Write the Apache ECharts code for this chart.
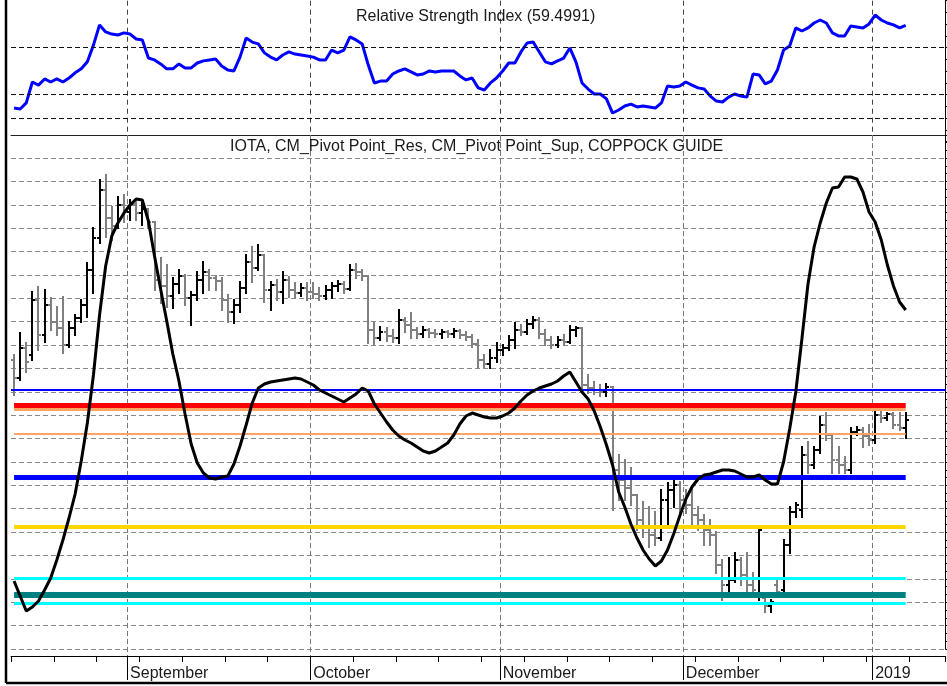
<!DOCTYPE html>
<html>
<head>
<meta charset="utf-8">
<script src="https://cdn.jsdelivr.net/npm/echarts@6/dist/echarts.min.js"></script>
<style>
html, body { margin: 0; padding: 0; background: #fff; }
#main { width: 947px; height: 686px; }
</style>
</head>
<body>
<div id="main"></div>
<script>
// IOTA daily bars 2018-08-13 .. 2019-01-06, axis runs a few empty days further
var firstDay = Date.UTC(2018, 7, 13);
var axisDays = 153;

var openP = [
  .4994,.4814,.5114,.5044,.5594,.5244,.5544,.5374,.5314,.5144,
  .5314,.5414,.5544,.5894,.6214,.6694,.6414,.6334,.6544,.6474,
  .6554,.6464,.6504,.6374,.5794,.5734,.5634,.5754,.5834,.5614,
  .5644,.5794,.5874,.5814,.5784,.5594,.5474,.5544,.5714,.5974,
  .5914,.6044,.5694,.5744,.5674,.5794,.5694,.5664,.5714,.5674,
  .5654,.5634,.5694,.5734,.5754,.5704,.5894,.5874,.5834,.5294,
  .5214,.5274,.5234,.5214,.5394,.5344,.5294,.5254,.5294,.5264,
  .5254,.5274,.5254,.5284,.5244,.5224,.5154,.4994,.4954,.5014,
  .5094,.5114,.5194,.5294,.5274,.5354,.5394,.5254,.5194,.5144,
  .5194,.5174,.5294,.5314,.4744,.4714,.4694,.4674,.4724,.3894,
  .3794,.3714,.3644,.3394,.3314,.3244,.3214,.3594,.3694,.3744,
  .3594,.3544,.3444,.3394,.3294,.3244,.2944,.2744,.2794,.2994,
  .2844,.2744,.2644,.2614,.2534,.2744,.2694,.3144,.3474,.3494,
  .4044,.3944,.4094,.4344,.4244,.3994,.3944,.3894,.4274,.4294,
  .4234,.4194,.4444,.4414,.4454,.4344,.4314
];
var highP = [
  .5044,.5264,.5164,.5674,.5724,.5694,.5614,.5524,.5624,.5374,
  .5444,.5594,.5964,.6314,.6794,.6844,.6524,.6624,.6644,.6594,
  .6574,.6564,.6504,.6374,.6014,.5944,.5814,.5894,.5844,.5674,
  .5874,.5974,.5894,.5834,.5814,.5644,.5594,.5774,.6044,.6124,
  .6144,.6044,.5774,.5794,.5874,.5824,.5764,.5754,.5764,.5764,
  .5714,.5734,.5764,.5784,.5774,.5944,.5954,.5894,.5834,.5364,
  .5324,.5314,.5294,.5494,.5414,.5464,.5314,.5324,.5304,.5294,
  .5294,.5284,.5304,.5294,.5274,.5244,.5194,.5044,.5094,.5164,
  .5144,.5234,.5364,.5344,.5394,.5424,.5414,.5294,.5224,.5224,
  .5244,.5334,.5324,.5314,.4844,.4774,.4744,.4754,.4724,.4044,
  .3994,.3914,.3644,.3574,.3524,.3474,.3694,.3764,.3794,.3774,
  .3694,.3694,.3524,.3444,.3394,.3274,.2994,.3014,.3064,.3014,
  .3064,.2864,.3324,.2664,.2594,.2794,.3194,.3524,.3564,.4124,
  .4174,.4124,.4424,.4464,.4244,.4124,.4024,.4314,.4324,.4314,
  .4344,.4474,.4474,.4464,.4464,.4464,.4464
];
var lowP = [
  .4644,.4794,.4874,.4994,.5094,.5174,.5294,.5244,.5064,.5124,
  .5244,.5374,.5424,.5664,.6164,.6224,.6194,.6314,.6374,.6394,
  .6394,.6344,.6314,.5694,.5564,.5524,.5514,.5664,.5544,.5344,
  .5594,.5664,.5694,.5694,.5494,.5374,.5364,.5474,.5664,.5774,
  .5894,.5574,.5494,.5594,.5564,.5624,.5614,.5634,.5594,.5614,
  .5594,.5604,.5614,.5684,.5664,.5694,.5814,.5794,.5164,.5144,
  .5194,.5184,.5174,.5164,.5274,.5214,.5214,.5224,.5224,.5224,
  .5214,.5224,.5224,.5214,.5194,.5124,.4924,.4924,.4914,.4974,
  .5044,.5094,.5114,.5244,.5254,.5314,.5214,.5144,.5114,.5124,
  .5144,.5164,.5234,.4674,.4664,.4654,.4634,.4634,.3494,.3594,
  .3594,.3544,.3294,.3224,.3124,.3144,.3194,.3324,.3524,.3464,
  .3464,.3324,.3294,.3144,.3144,.2864,.2594,.2644,.2774,.2744,
  .2674,.2644,.2594,.2474,.2474,.2644,.2674,.3064,.3424,.3424,
  .3864,.3914,.4064,.4194,.3864,.3864,.3864,.3864,.4244,.4124,
  .4144,.4164,.4374,.4394,.4314,.4294,.4214
];
var closeP = [
  .4814,.5114,.4974,.5594,.5244,.5544,.5374,.5314,.5144,.5314,
  .5414,.5544,.5894,.6214,.6694,.6414,.6334,.6544,.6474,.6554,
  .6464,.6504,.6374,.5794,.5734,.5634,.5754,.5834,.5614,.5644,
  .5794,.5874,.5814,.5784,.5594,.5474,.5544,.5714,.5974,.5914,
  .6044,.5694,.5744,.5674,.5794,.5694,.5664,.5714,.5674,.5654,
  .5634,.5694,.5734,.5754,.5704,.5894,.5874,.5834,.5294,.5214,
  .5274,.5234,.5214,.5394,.5344,.5294,.5254,.5294,.5264,.5254,
  .5274,.5254,.5284,.5244,.5224,.5154,.4994,.4954,.5014,.5094,
  .5114,.5194,.5294,.5274,.5354,.5394,.5254,.5194,.5144,.5194,
  .5174,.5294,.5314,.4744,.4714,.4694,.4674,.4724,.3894,.3794,
  .3714,.3644,.3394,.3314,.3244,.3214,.3594,.3694,.3744,.3594,
  .3544,.3444,.3394,.3294,.3244,.2944,.2744,.2794,.2994,.2844,
  .2744,.2694,.3294,.2534,.2574,.2674,.3144,.3474,.3544,.4044,
  .3944,.4094,.4344,.4244,.3994,.3944,.3894,.4274,.4294,.4234,
  .4194,.4444,.4414,.4454,.4344,.4314,.4394
];
var rsi = [
  24.3,23.9,26.5,35.4,34.1,36.7,35.4,36.7,35.4,37.1,
  39.3,41.0,44.0,51.1,59.7,56.7,55.8,55.4,56.3,55.8,
  53.7,53.3,45.6,44.8,43.1,41.0,41.0,43.1,41.4,41.4,
  43.5,44.4,44.8,45.2,42.2,40.5,40.1,46.0,54.1,52.4,
  51.6,47.8,46.0,44.8,46.9,48.2,47.3,46.9,46.5,46.0,
  44.8,44.8,49.0,47.8,49.0,54.6,53.3,51.6,42.6,35.0,
  35.8,35.8,38.8,40.1,41.0,39.7,38.4,38.8,40.1,39.7,
  40.1,40.1,40.1,38.0,36.3,37.1,32.9,32.0,35.0,37.1,
  40.1,43.5,43.5,48.2,52.0,52.4,48.2,44.0,43.1,44.4,
  45.6,49.9,44.0,35.0,32.4,30.3,30.3,28.2,22.2,23.5,
  25.2,26.0,24.8,25.2,24.8,24.3,26.5,33.7,33.3,33.7,
  35.4,34.1,32.9,32.4,29.4,27.3,26.9,29.0,30.3,29.4,
  29.0,38.8,38.4,34.6,35.8,40.5,49.0,50.7,58.4,57.1,
  58.4,60.5,61.8,60.5,56.3,55.0,55.0,59.2,58.8,58.4,
  60.1,63.9,61.8,60.5,59.7,58.4,59.4991
];
var coppock = [
  -36.4,-39.4,-42.4,-41.6,-40.4,-38.2,-35.8,-32.2,-28.2,-23.8,
  -19.0,-12.4,-4.8,4.8,16.8,26.6,32.6,35.2,37.2,38.8,
  40.0,39.8,35.6,28.6,22.0,15.6,9.0,3.6,-3.0,-9.0,
  -12.8,-14.8,-15.8,-16.0,-15.6,-15.4,-13.0,-9.4,-5.2,-0.8,
  2.2,3.0,3.4,3.6,3.8,4.0,4.2,4.0,3.4,2.8,
  1.8,1.2,0.6,0.0,-0.6,0.2,1.0,2.2,1.6,-1.0,
  -2.8,-4.6,-6.2,-7.4,-8.2,-8.8,-9.6,-10.4,-10.8,-10.4,
  -9.6,-8.8,-7.2,-5.0,-3.4,-2.8,-3.2,-3.6,-3.8,-3.8,
  -3.4,-2.8,-1.8,-0.4,0.8,1.6,2.2,2.6,3.0,3.6,
  4.6,5.4,3.4,1.4,0.0,-2.4,-5.6,-9.2,-13.2,-18.6,
  -21.6,-25.0,-27.8,-30.2,-32.0,-33.4,-32.4,-30.2,-27.0,-23.4,
  -20.0,-17.6,-16.0,-15.2,-15.0,-14.6,-14.2,-14.2,-14.4,-15.0,
  -15.6,-15.6,-15.2,-16.2,-17.0,-17.0,-12.6,-6.0,1.4,12.0,
  23.0,30.4,35.2,39.2,42.2,42.4,44.4,44.4,44.0,41.4,
  37.4,35.4,31.8,26.8,22.6,19.4,17.8
];

// CM pivot levels (res / sup), top to bottom
var pivotLevels = [0.4544, 0.4497, 0.4252, 0.3821, 0.3324, 0.2816, 0.2644, 0.2561];
var guideLevel = 0.4687;
var rsiLevels = [50, 30, 20];
var monthNames = ['January','February','March','April','May','June','July',
  'August','September','October','November','December'];

var pivotStyle = [
  ['#ff0000', 5], ['#ffa564', 3], ['#ffa564', 2], ['#0000ff', 5],
  ['#ffd700', 4], ['#00ffff', 3], ['#008080', 6], ['#00ffff', 3]
];

var days = [];
for (var k = 0; k < axisDays; k++) {
  days.push(new Date(firstDay + k * 86400000).toISOString().slice(0, 10));
}
var nBars = closeP.length;

var monthIdx = [];
days.forEach(function (d, j) {
  if (d.slice(8) === '01') monthIdx.push([j, 0]);
});

function monday(idx, v) { return new Date(v + 'T00:00:00Z').getUTCDay() === 1; }
function monthStart(idx, v) { return v.slice(8) === '01'; }

var bars = [];
for (var i = 0; i < nBars; i++) {
  bars.push([i, openP[i], highP[i], lowP[i], closeP[i]]);
}

function renderBar(params, api) {
  var idx = api.value(0);
  var o = api.coord([idx, api.value(1)]);
  var h = api.coord([idx, api.value(2)]);
  var l = api.coord([idx, api.value(3)]);
  var c = api.coord([idx, api.value(4)]);
  var x = Math.round(o[0]);
  var col = api.value(4) >= api.value(1) ? '#000000' : '#808080';
  var st = { stroke: col, lineWidth: 2 };
  return {
    type: 'group',
    children: [
      { type: 'line', shape: { x1: x, y1: h[1] - 1, x2: x, y2: l[1] + 1 }, style: st },
      { type: 'line', shape: { x1: x - 3, y1: o[1], x2: x, y2: o[1] }, style: st },
      { type: 'line', shape: { x1: x, y1: c[1], x2: x + 3, y2: c[1] }, style: st }
    ]
  };
}

// month separators sit on the left edge of the 1st day's band
function monthLine(color, dash, below) {
  return function (params, api) {
    var cs = params.coordSys;
    var half = api.size([1, 0])[0] / 2;
    var x = Math.round(api.coord([api.value(0), 0])[0] - half) + 0.5;
    var kids = [
      { type: 'line', shape: { x1: x, y1: cs.y, x2: x, y2: cs.y + cs.height + (below ? 7 : 0) },
        style: { stroke: color, lineWidth: 1, lineDash: dash } }
    ];
    if (below) {
      kids.push({ type: 'line', shape: { x1: x, y1: cs.y + cs.height + 7, x2: x, y2: cs.y + cs.height + below },
        style: { stroke: '#000', lineWidth: 1 } });
    }
    return { type: 'group', children: kids };
  };
}

var pivotLines = pivotLevels.map(function (lv, j) {
  return [
    { coord: [days[0], lv], lineStyle: { color: pivotStyle[j][0], width: pivotStyle[j][1], type: 'solid' } },
    { coord: [days[nBars - 1], lv] }
  ];
});
pivotLines.unshift({ yAxis: guideLevel, lineStyle: { color: '#0000ff', width: 2, type: 'solid' } });

var rsiLines = rsiLevels.map(function (lv) {
  return { yAxis: lv, lineStyle: { color: '#111', width: 1, type: [5, 3] } };
});

var font = 'Liberation Sans, Arial, sans-serif';
var chart = echarts.init(document.getElementById('main'));

var option = {
  animation: false,
  backgroundColor: '#ffffff',
  title: [
    { text: 'Relative Strength Index (59.4991)', left: 356, top: 9, padding: 0,
      textStyle: { fontSize: 16, fontWeight: 'normal', color: '#1a1a1a', fontFamily: font } },
    { text: 'IOTA, CM_Pivot Point_Res, CM_Pivot Point_Sup, COPPOCK GUIDE', left: 230, top: 139, padding: 0,
      textStyle: { fontSize: 16, fontWeight: 'normal', color: '#1a1a1a', fontFamily: font } }
  ],
  grid: [
    { left: 11, right: 1.6, top: 0.7, height: 141, containLabel: false, outerBoundsMode: 'none' },
    { left: 11, right: 1.6, top: 135, height: 514, containLabel: false, outerBoundsMode: 'none' }
  ],
  xAxis: [
    { gridIndex: 0, type: 'category', data: days, boundaryGap: true, show: false },
    { gridIndex: 1, type: 'category', data: days, boundaryGap: true, position: 'bottom', offset: 7,
      axisLine: { show: true, onZero: false, lineStyle: { color: '#000', width: 1 } },
      axisTick: { show: true, interval: monday, length: 6, lineStyle: { color: '#000' } },
      axisLabel: { show: false }, splitLine: { show: false } },
    { gridIndex: 1, type: 'category', data: days, boundaryGap: true, position: 'bottom', offset: 7,
      axisLine: { show: false, onZero: false }, axisTick: { show: false },
      axisLabel: { show: true, interval: monthStart, align: 'left', margin: 10,
        fontSize: 16, color: '#1a1a1a', fontFamily: font,
        formatter: function (v) {
          var m = +v.slice(5, 7);
          return m === 1 ? v.slice(0, 4) : monthNames[m - 1];
        } },
      splitLine: { show: false } },
    { gridIndex: 1, type: 'category', data: days, boundaryGap: true, position: 'top',
      axisLine: { show: true, onZero: false, lineStyle: { color: '#222', width: 1 } },
      axisTick: { show: false }, axisLabel: { show: false }, splitLine: { show: false } }
  ],
  yAxis: [
    { gridIndex: 0, type: 'value', position: 'right', min: 10, max: 70, interval: 5,
      axisLine: { show: true, onZero: false, lineStyle: { color: '#000' } },
      axisTick: { show: true, length: 4, lineStyle: { color: '#000' } },
      axisLabel: { show: false }, splitLine: { show: false } },
    { gridIndex: 1, type: 'value', position: 'right', min: 0.21042, max: 0.72442, interval: 0.02338,
      axisLine: { show: true, onZero: false, lineStyle: { color: '#000' } },
      axisTick: { show: true, length: 4, lineStyle: { color: '#000' } },
      minorTick: { show: true, splitNumber: 3, length: 2, lineStyle: { color: '#000' } },
      axisLabel: { show: false },
      splitLine: { show: true, lineStyle: { color: '#888', type: [5, 3] } } },
    { gridIndex: 1, type: 'value', position: 'right', min: -50, max: 52.8, show: false }
  ],
  series: [
    { name: 'months top', type: 'custom', xAxisIndex: 0, yAxisIndex: 0, data: monthIdx, z: 1,
      clip: false, silent: true, encode: { x: 0, y: 1 }, renderItem: monthLine('#444', [5, 4], 0) },
    { name: 'months bottom', type: 'custom', xAxisIndex: 1, yAxisIndex: 1, data: monthIdx, z: 1,
      clip: false, silent: true, encode: { x: 0, y: 1 }, renderItem: monthLine('#777', [5, 3], 31) },
    { name: 'rsi levels', type: 'line', xAxisIndex: 0, yAxisIndex: 0, data: [], z: 1,
      markLine: { symbol: 'none', silent: true, label: { show: false }, data: rsiLines } },
    { name: 'RSI', type: 'line', xAxisIndex: 0, yAxisIndex: 0, data: rsi, z: 3,
      symbol: 'none', lineStyle: { color: '#0000ff', width: 3 } },
    { name: 'IOTA', type: 'custom', xAxisIndex: 1, yAxisIndex: 1, data: bars, z: 2,
      encode: { x: 0, y: [1, 2, 3, 4] }, renderItem: renderBar },
    { name: 'CM_Pivot', type: 'line', xAxisIndex: 1, yAxisIndex: 1, data: [], z: 3,
      markLine: { symbol: 'none', silent: true, label: { show: false }, data: pivotLines } },
    { name: 'COPPOCK GUIDE', type: 'line', xAxisIndex: 1, yAxisIndex: 2, data: coppock, z: 5,
      symbol: 'none', lineStyle: { color: '#000', width: 3 } }
  ],
  graphic: [
    { type: 'line', silent: true, z: 100,
      shape: { x1: 6, y1: 0, x2: 6, y2: 683 },
      style: { stroke: '#000', lineWidth: 2.5 } },
    { type: 'line', silent: true, z: 100,
      shape: { x1: 6, y1: 683, x2: 947, y2: 683 },
      style: { stroke: '#000', lineWidth: 2.5 } }
  ]
};
chart.setOption(option);
</script>
</body>
</html>
